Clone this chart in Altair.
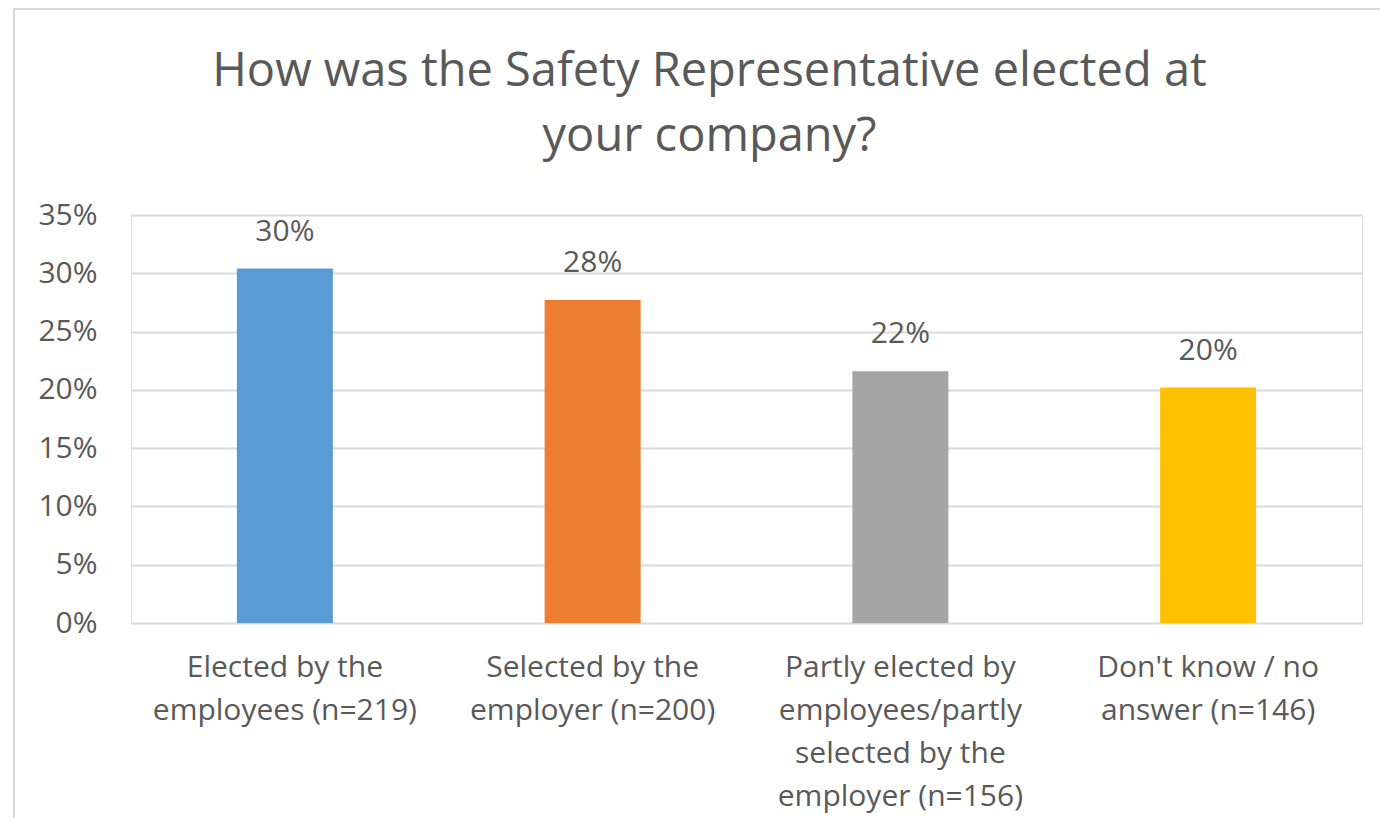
import altair as alt
import pandas as pd

categories = [
    "Elected by the\nemployees (n=219)",
    "Selected by the\nemployer (n=200)",
    "Partly elected by\nemployees/partly\nselected by the\nemployer (n=156)",
    "Don't know / no\nanswer (n=146)",
]
shares = [0.304, 0.277, 0.216, 0.202]
colors = ["#5B9BD5", "#ED7D31", "#A5A5A5", "#FFC000"]
y_ticks = [0, 0.05, 0.10, 0.15, 0.20, 0.25, 0.30, 0.35]
title_lines = ["How was the Safety Representative elected at", "your company?"]

FONT = "Open Sans"
TXT = "#595959"
FS = 30

df = pd.DataFrame({"category": categories, "share": shares, "color": colors})

base = alt.Chart(df).encode(
    x=alt.X(
        "category:N",
        sort=categories,
        title=None,
        scale=alt.Scale(paddingInner=0, paddingOuter=0),
        axis=alt.Axis(
            labelExpr="split(datum.label, '\\n')",
            labelAngle=0,
            labelFont=FONT,
            labelFontSize=FS,
            labelColor=TXT,
            labelLineHeight=43,
            labelPadding=29,
            labelBaseline="top",
            labelLimit=600,
            domain=False,
            ticks=False,
            grid=False,
        ),
    ),
    y=alt.Y(
        "share:Q",
        title=None,
        scale=alt.Scale(domain=[0, 0.35], nice=False),
        axis=alt.Axis(
            values=y_ticks,
            format=".0%",
            labelFont=FONT,
            labelFontSize=FS,
            labelColor=TXT,
            labelPadding=34,
            domain=False,
            ticks=False,
            gridColor="#D9D9D9",
            gridWidth=2,
        ),
    ),
)

bars = base.mark_bar(size=96).encode(
    color=alt.Color("color:N", scale=None, legend=None)
)

labels = base.mark_text(
    font=FONT, fontSize=FS, color=TXT, dy=-28, baseline="alphabetic", align="center"
).encode(text=alt.Text("share:Q", format=".0%"))

one = pd.DataFrame({"k": [0]})
frame_left = alt.Chart(one).mark_rule(stroke="#D9D9D9", strokeWidth=2).encode(
    x=alt.value(-117),
    y=alt.value(-207),
    y2=alt.value(800),
)
frame_top = alt.Chart(one).mark_rule(stroke="#D9D9D9", strokeWidth=2).encode(
    x=alt.value(-118),
    x2=alt.value(1500),
    y=alt.value(-206),
)

chart = (
    alt.layer(frame_left, frame_top, bars, labels)
    .properties(
        width=1231,
        height=408,
        padding={"left": 123, "top": 207, "right": 18, "bottom": 195},
        autosize=alt.AutoSizeParams(type="none"),
        title=alt.TitleParams(
            text=title_lines,
            font=FONT,
            fontSize=47,
            fontWeight="normal",
            color=TXT,
            lineHeight=65,
            anchor="middle",
            baseline="bottom",
            dx=-37,
            offset=-201,
        ),
    )
    .configure_view(stroke=None)
    .configure(background="white")
)

chart.save("out.html", embed_options={"renderer": "svg", "actions": False})
